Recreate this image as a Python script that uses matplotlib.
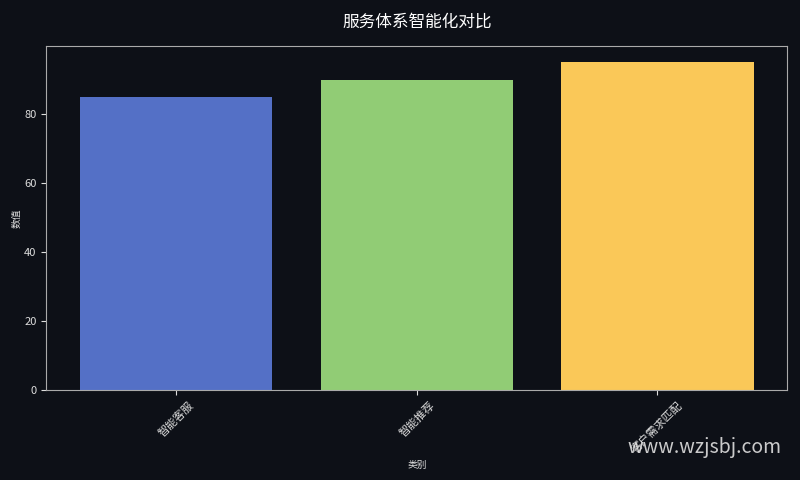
import matplotlib.pyplot as plt

plt.rcParams['font.family'] = ['Noto Sans CJK SC', 'DejaVu Sans']

# 数据
categories = ['智能客服', '智能推荐', '客户需求匹配']
values = [85, 90, 95]
colors = ['#5470c6', '#91cc75', '#fac858']

bg = '#0d1017'
fig, ax = plt.subplots(figsize=(8, 4.8), dpi=100)
fig.patch.set_facecolor(bg)
ax.set_facecolor(bg)

ax.bar(categories, values, color=colors, width=0.8)

ax.set_title('服务体系智能化对比', color='white', fontsize=12, pad=14)
ax.set_xlabel('类别', color='#dddddd', fontsize=7, labelpad=4)
ax.set_ylabel('数值', color='#dddddd', fontsize=7, labelpad=2)
ax.tick_params(colors='#dddddd', labelsize=8)
plt.xticks(rotation=45)
for s in ax.spines.values():
    s.set_color('#aaaaaa')

fig.subplots_adjust(left=0.058, right=0.984, top=0.904, bottom=0.187)

# 水印
fig.text(0.977, 0.068, 'www.wzjsbj.com', color='#e0e0e0', fontsize=14,
         ha='right', va='center', alpha=0.9)

plt.savefig('out.png', facecolor=bg)
